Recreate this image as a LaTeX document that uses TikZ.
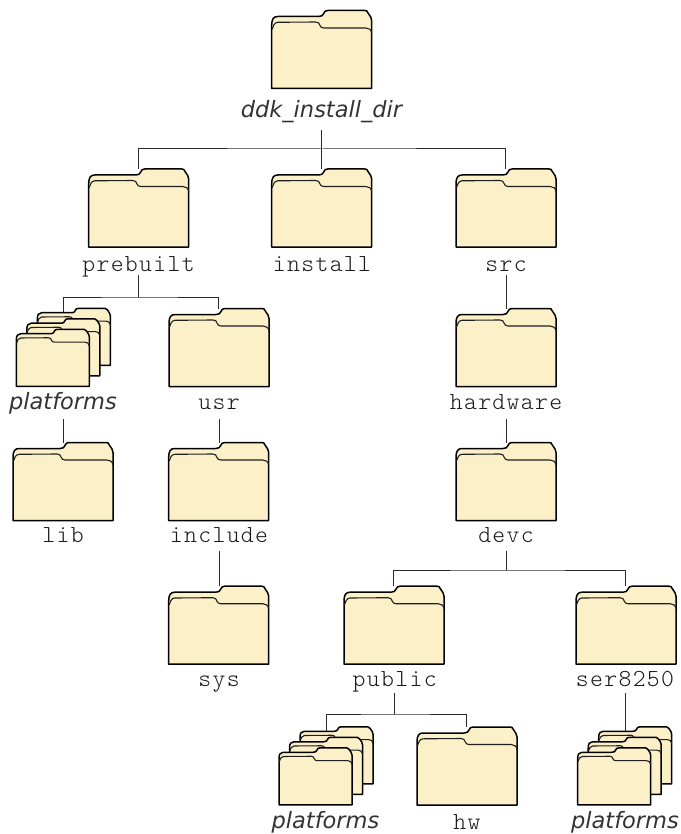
\documentclass[tikz,border=0pt]{standalone}
\usepackage{fontspec}
\usetikzlibrary{backgrounds}
\newfontfamily\monolabel[LetterSpace=5.5]{Latin Modern Mono Light}
\newfontfamily\itlabel{DejaVu Sans}
\definecolor{manila}{HTML}{FBF0C8}
\definecolor{stemgray}{HTML}{2A2A2A}
\definecolor{textgray}{HTML}{1A1A1A}
\tikzset{
  foldershape/.style={fill=manila,draw=black,line width=1.5pt,line join=round},
  foldertab/.style={draw=black!88,line width=1.1pt,line cap=round},
  foldernode/.style={inner sep=0pt,outer sep=0pt,draw=none},
  monotext/.style={anchor=base,inner sep=0pt,outer sep=0pt,font=\monolabel\fontsize{24.5}{24.5}\selectfont,text=textgray},
  ittext/.style={anchor=base,inner sep=0pt,outer sep=0pt,font=\itlabel\itshape\fontsize{22.5}{22.5}\selectfont,text=black!80},
  stem/.style={draw=stemgray,line width=1pt}
}
% name, left x, top y, scale
\newcommand\fldr[4]{%
  \begin{scope}[shift={(#2,#3)},scale=#4]
    \path[foldershape] (0,78.5) -- (0,15) .. controls (0,9) and (2,6.5) .. (6,6.5)
      -- (47,6.5) .. controls (50,6.5) and (51,5.5) .. (52,3.5)
      .. controls (52.8,1.5) and (53.5,0.5) .. (56,0.5) -- (93,0.5)
      .. controls (95,0.5) and (95.5,1) .. (96,2.5) -- (99,7) .. controls (99.7,8) and (100,9) .. (100,10.5)
      -- (100,78.5) -- cycle;
    \path[foldertab] (0.5,19) .. controls (1.5,16) and (2.5,12.5) .. (6,12.3) -- (44,12)
      .. controls (47,12) and (47.5,13.5) .. (48,15) .. controls (48.7,17) and (50,18) .. (52,18)
      -- (94,18) .. controls (97,18) and (99.5,19.5) .. (100,23);
    \node[foldernode,minimum width={100pt*#4},minimum height={78pt*#4}] (#1) at (49.5,39.5) {};
  \end{scope}}
% name, left x of front folder, top y of back folder
\newcommand\fstack[3]{%
  \fldr{#1back}{#2+21}{#3}{0.73}
  \fldr{#1mid}{#2+10.5}{#3+10.5}{0.73}
  \fldr{#1}{#2}{#3+21}{0.73}
  \coordinate (#1in) at (#2+47,#3+8);
}
\begin{document}
\begin{tikzpicture}[x=1pt,y=-1pt]
\useasboundingbox (0,0) rectangle (680,834);
% folders
\fldr{root}{271.7}{10}{1}
\fldr{prebuilt}{88.7}{168.5}{1}
\fldr{install}{271.7}{168.5}{1}
\fldr{src}{456}{168.5}{1}
\fstack{platA}{16.3}{308}
\fldr{usr}{169}{308}{1}
\fldr{hardware}{456}{308}{1}
\fldr{lib}{13}{442}{1}
\fldr{include}{168.7}{442}{1}
\fldr{devc}{456}{442}{1}
\fldr{sys}{168.7}{585.7}{1}
\fldr{public}{344}{585.7}{1}
\fldr{ser}{576}{585.7}{1}
\fstack{platB}{279}{726.5}
\fldr{hw}{417}{726.5}{1}
\fstack{platC}{577.7}{726.5}
% labels
\node[ittext,text depth=13pt] (lroot) at (321.5,117.5) {ddk\_install\_dir};
\node[monotext,text depth=4pt] (lprebuilt) at (138.5,271) {prebuilt};
\node[monotext,text depth=4pt] (linstall) at (322,271) {install};
\node[monotext,text depth=4pt] (lsrc) at (506,271) {src};
\node[ittext,text depth=10pt] (lplatA) at (63,409) {platforms};
\node[monotext,text depth=10pt] (lusr) at (219,409) {usr};
\node[monotext,text depth=10pt] (lhardware) at (506,409) {hardware};
\node[monotext,text depth=4pt] (llib) at (63,542) {lib};
\node[monotext,text depth=8.5pt] (linclude) at (219,542) {include};
\node[monotext,text depth=8.5pt] (ldevc) at (506,542) {devc};
\node[monotext,text depth=4pt] (lsys) at (219,686) {sys};
\node[monotext,text depth=7pt] (lpublic) at (394.7,686) {public};
\node[monotext,text depth=7pt] (lser) at (625,686) {ser8250};
\node[ittext] (lplatB) at (325.5,828) {platforms};
\node[monotext] (lhw) at (467,829) {hw};
\node[ittext] (lplatC) at (625,828) {platforms};
% junctions
\coordinate (busroot) at (322,149);
\coordinate (busprebuilt) at (138.7,297);
\coordinate (busdevc) at (506,570);
\coordinate (buspublic) at (394.7,714);
\begin{pgfonlayer}{background}
\draw[stem] (lroot.south) -- (lroot.south |- install.north);
\draw[stem] (prebuilt.north) |- (busroot) -| (src.north);
\draw[stem] (lprebuilt.south) -- (lprebuilt.south |- busprebuilt);
\draw[stem] (platAin) |- (busprebuilt) -| (usr.north);
\draw[stem] (lplatA.south) -- (lplatA.south |- lib.north);
\draw[stem] (lusr.south) -- (lusr.south |- include.north);
\draw[stem] (linclude.south) -- (linclude.south |- sys.north);
\draw[stem] (lsrc.south) -- (lsrc.south |- hardware.north);
\draw[stem] (lhardware.south) -- (lhardware.south |- devc.north);
\draw[stem] (ldevc.south) -- (ldevc.south |- busdevc);
\draw[stem] (public.north) |- (busdevc) -| (ser.north);
\draw[stem] (lpublic.south) -- (lpublic.south |- buspublic);
\draw[stem] (platBin) |- (buspublic) -| (hw.north);
\draw[stem] (lser.south) -- (lser.south |- platCin);
\end{pgfonlayer}
\end{tikzpicture}
\end{document}
